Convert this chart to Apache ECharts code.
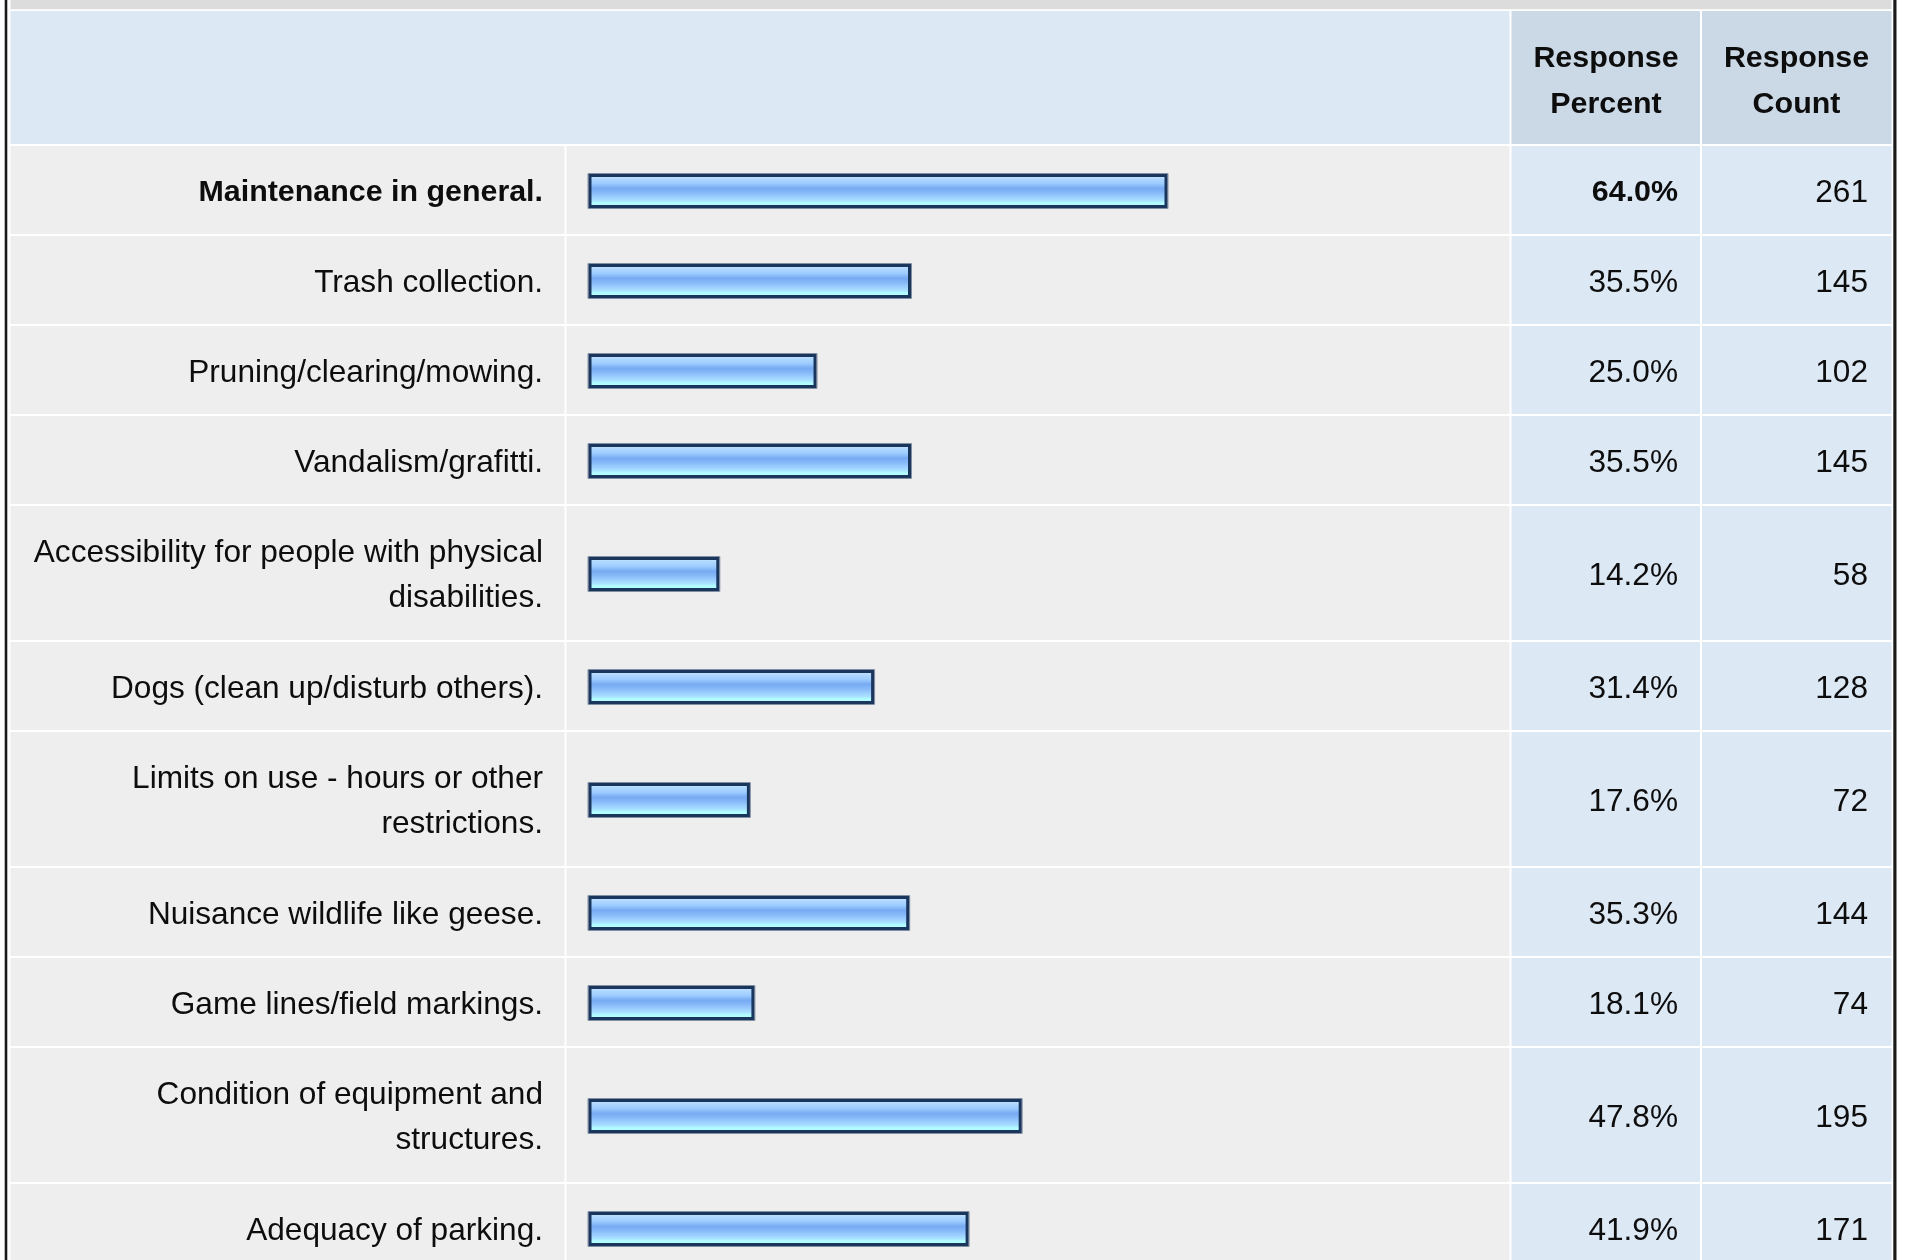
<!DOCTYPE html>
<html>
<head>
<meta charset="utf-8">
<script src="https://cdn.jsdelivr.net/npm/echarts@6/dist/echarts.min.js"></script>
<style>
html,body{margin:0;padding:0;background:#ffffff;overflow:hidden}
#chart{width:1907px;height:1260px}
</style>
</head>
<body>
<div id="chart"></div>
<script>
// ---------------- data ----------------
const categories = [
  'Maintenance in general.',
  'Trash collection.',
  'Pruning/clearing/mowing.',
  'Vandalism/grafitti.',
  'Accessibility for people with physical disabilities.',
  'Dogs (clean up/disturb others).',
  'Limits on use - hours or other restrictions.',
  'Nuisance wildlife like geese.',
  'Game lines/field markings.',
  'Condition of equipment and structures.',
  'Adequacy of parking.'
];
const percents = [64.0, 35.5, 25.0, 35.5, 14.2, 31.4, 17.6, 35.3, 18.1, 47.8, 41.9];
const counts = [261, 145, 102, 145, 58, 128, 72, 144, 74, 195, 171];
const headerPercent = ['Response', 'Percent'];
const headerCount = ['Response', 'Count'];

// ---------------- style / layout ----------------
const FAMILY = '"Liberation Sans", Arial, Helvetica, sans-serif';
const FS = 31.6, FS_B = 30.4, LINE_H = 45, HEAD_LINE_H = 46;
const LABEL_WRAP = 520;
const HEADER_H = 135;
const GRID_TOP = 10, GRID_H = 1250;
const COLS = {
  label: [10.5, 564.5], bar: [566.5, 1509.5], pct: [1511.5, 1700], cnt: [1702, 1891.5],
  head: [10.5, 1509.5]
};
const TEXT_X = { label: 543, pct: 1678, cnt: 1868, pctHead: 1606, cntHead: 1796.5 };
const C = {
  grayCell: '#eeeeee', blueCell: '#dde8f5', headDark: '#cbd8e6',
  text: '#0d0d0d', band: '#dcdcdc', border: '#1a1a1a',
  barStroke: '#1b365d', barEdge: '#8290a4'
};

const maxIdx = percents.indexOf(Math.max.apply(null, percents));

const mctx = document.createElement('canvas').getContext('2d');
function fontStr(bold) { return (bold ? 'bold ' : 'normal ') + (bold ? FS_B : FS) + 'px ' + FAMILY; }
function wrapText(text, bold) {
  mctx.font = fontStr(bold);
  const words = text.split(' ');
  const lines = [];
  let cur = '';
  words.forEach(function (w) {
    const t = cur ? cur + ' ' + w : w;
    if (cur && mctx.measureText(t).width > LABEL_WRAP) { lines.push(cur); cur = w; }
    else cur = t;
  });
  if (cur) lines.push(cur);
  return lines;
}
const wrapped = categories.map(function (c, i) { return wrapText(c, i === maxIdx); });
const rowH = wrapped.map(function (l) { return 44 + 46 * l.length; });
const rowTop = [];
let acc = HEADER_H;
rowH.forEach(function (h) { rowTop.push(acc); acc += h; });

function cellRect(api, col, top, bot, color) {
  const a = api.coord([col[0], top]);
  const b = api.coord([col[1], bot]);
  return { type: 'rect', shape: { x: a[0], y: a[1] + 1, width: b[0] - a[0], height: b[1] - a[1] - 2 },
    style: { fill: color } };
}
function cellText(api, x, top, bot, text, bold, align, dy, lh) {
  const a = api.coord([x, top]);
  const b = api.coord([x, bot]);
  return { type: 'text', x: a[0], y: (a[1] + b[1]) / 2 + dy,
    style: { text: text, fill: C.text, font: fontStr(bold), align: align, verticalAlign: 'middle', lineHeight: lh || LINE_H } };
}

const chart = echarts.init(document.getElementById('chart'), null, { renderer: 'canvas' });

const barGradient = new echarts.graphic.LinearGradient(0, 0, 0, 1, [
  { offset: 0, color: '#d2eaff' },
  { offset: 0.12, color: '#b4dbff' },
  { offset: 0.28, color: '#9ccbff' },
  { offset: 0.42, color: '#77aaf2' },
  { offset: 0.55, color: '#87b9f8' },
  { offset: 0.68, color: '#9dcfff' },
  { offset: 0.78, color: '#a8e2ff' },
  { offset: 0.85, color: '#b2fcff' },
  { offset: 1, color: '#b2ffff' }
]);

chart.setOption({
  animation: false,
  backgroundColor: '#ffffff',
  grid: [
    { left: 0, top: GRID_TOP, width: 1907, height: GRID_H },
    { left: 590, top: GRID_TOP, width: 900, height: GRID_H }
  ],
  xAxis: [
    { gridIndex: 0, type: 'value', min: 0, max: 1907, show: false },
    { gridIndex: 1, type: 'value', min: 0, max: 100, show: false }
  ],
  yAxis: [
    { gridIndex: 0, type: 'value', min: 0, max: GRID_H, inverse: true, show: false },
    { gridIndex: 1, type: 'value', min: 0, max: GRID_H, inverse: true, show: false }
  ],
  graphic: [
    { type: 'rect', shape: { x: 10.5, y: 0, width: 1881, height: 9.3 }, style: { fill: C.band }, z: 1 },
    { type: 'rect', shape: { x: 4.7, y: 0, width: 2.6, height: 1260 }, style: { fill: C.border }, z: 1 },
    { type: 'rect', shape: { x: 1893.3, y: 0, width: 3.2, height: 1260 }, style: { fill: C.border }, z: 1 }
  ],
  series: [
    {
      type: 'custom', name: 'header', xAxisIndex: 0, yAxisIndex: 0, clip: false, z: 2,
      data: [[0]],
      renderItem: function (params, api) {
        return { type: 'group', children: [
          cellRect(api, COLS.head, 0, HEADER_H, C.blueCell),
          cellRect(api, COLS.pct, 0, HEADER_H, C.headDark),
          cellRect(api, COLS.cnt, 0, HEADER_H, C.headDark),
          cellText(api, TEXT_X.pctHead, 0, HEADER_H, headerPercent.join('\n'), true, 'center', 4, HEAD_LINE_H),
          cellText(api, TEXT_X.cntHead, 0, HEADER_H, headerCount.join('\n'), true, 'center', 4, HEAD_LINE_H)
        ] };
      }
    },
    {
      type: 'custom', name: 'rows', xAxisIndex: 0, yAxisIndex: 0, clip: false, z: 2,
      data: categories.map(function (c, i) { return [i]; }),
      renderItem: function (params, api) {
        const i = params.dataIndex;
        const top = rowTop[i], bot = rowTop[i] + rowH[i];
        const bold = i === maxIdx;
        return { type: 'group', children: [
          cellRect(api, COLS.label, top, bot, C.grayCell),
          cellRect(api, COLS.bar, top, bot, C.grayCell),
          cellRect(api, COLS.pct, top, bot, C.blueCell),
          cellRect(api, COLS.cnt, top, bot, C.blueCell),
          cellText(api, TEXT_X.label, top, bot, wrapped[i].join('\n'), bold, 'right', 3),
          cellText(api, TEXT_X.pct, top, bot, percents[i].toFixed(1) + '%', bold, 'right', 3),
          cellText(api, TEXT_X.cnt, top, bot, String(counts[i]), false, 'right', 3)
        ] };
      }
    },
    {
      type: 'custom', name: 'Response Percent', xAxisIndex: 1, yAxisIndex: 1, clip: false, z: 5,
      data: percents.map(function (p, i) { return [p, i]; }),
      renderItem: function (params, api) {
        const i = params.dataIndex;
        const mid = rowTop[i] + rowH[i] / 2;
        const a = api.coord([0, mid]);
        const b = api.coord([api.value(0), mid]);
        const cy = a[1] + 1;
        const w = b[0] - a[0];
        return { type: 'group', children: [
          { type: 'rect', shape: { x: a[0] - 2, y: cy - 17.5, width: w + 4, height: 35 },
            style: { fill: 'none', stroke: C.barEdge, lineWidth: 1 } },
          { type: 'rect', shape: { x: a[0], y: cy - 15.5, width: w, height: 31 },
            style: { fill: barGradient, stroke: C.barStroke, lineWidth: 3 } }
        ] };
      }
    }
  ]
});
</script>
</body>
</html>
